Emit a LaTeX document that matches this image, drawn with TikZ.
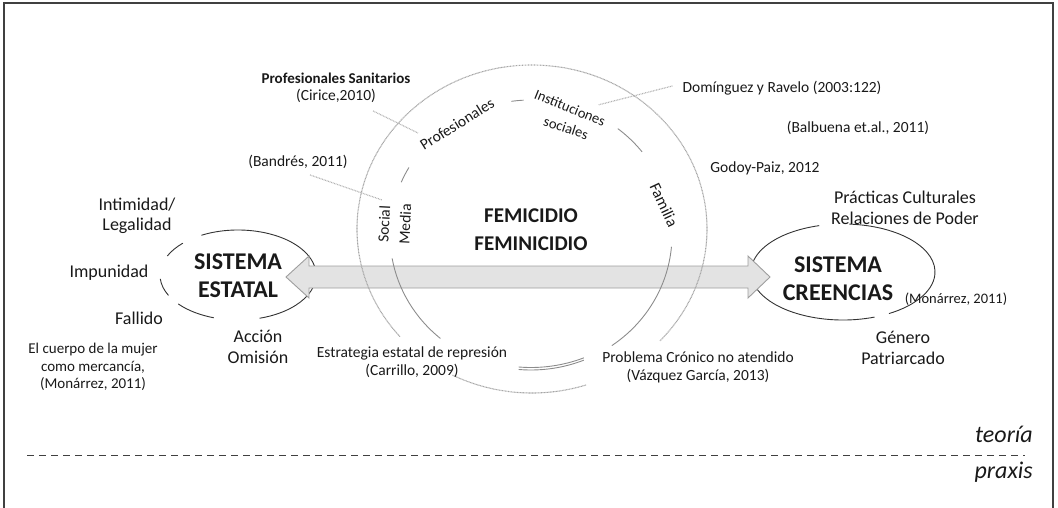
\documentclass[tikz,border=0pt]{standalone}
\usepackage{fontspec}
\setmainfont{Carlito}
\newcommand\myarc[7]{\draw[#1] (#2,#3) ++(#6:#4 and #5) arc[start angle=#6,end angle=#7,x radius=#4,y radius=#5];}
\begin{document}
\begin{tikzpicture}[x=1pt,y=-1pt,
  every node/.style={inner sep=0pt, align=center, text=black!90},
  ref/.style={font=\fontsize{15.5}{18}\selectfont},
  med/.style={font=\fontsize{18}{20.5}\selectfont},
  big/.style={font=\bfseries\fontsize{24}{28}\selectfont},
  fem/.style={font=\bfseries\fontsize{21}{28}\selectfont},
  onring/.style={font=\fontsize{15.5}{18}\selectfont},
  side/.style={font=\itshape\fontsize{24}{28}\selectfont, anchor=east},
  framec/.style={draw=black!75, line width=1.3pt},
  ellc/.style={draw=black!80, line width=0.9pt},
  dotc/.style={draw=black!35, line width=1.1pt, dash pattern=on 0.9pt off 0.6pt},
  innc/.style={draw=black!45, line width=0.9pt},
  leader/.style={draw=black!30, line width=1.2pt, dash pattern=on 0.8pt off 0.8pt},
  arrowst/.style={draw=black!38, fill=black!11, line width=0.9pt, line join=miter},
  sep/.style={draw=black!75, line width=0.9pt, dash pattern=on 7pt off 5pt}]
\useasboundingbox (0,0) rectangle (1058,508);
\clip (0,0) rectangle (1058,508);
% frame
\draw[framec] (4,520) -- (4,3) -- (1053,3) -- (1053,520);
% ellipses (broken outlines)
\myarc{ellc}{238}{275}{78}{45}{205}{225}
\myarc{ellc}{238}{275}{78}{45}{242}{434}
\myarc{ellc}{238}{275}{78}{45}{153}{175}
\myarc{ellc}{238}{275}{78}{45}{108}{140}
\myarc{ellc}{843}{272}{92}{48}{274}{420}
\myarc{ellc}{843}{272}{92}{48}{70}{255}
% double arrow
\draw[arrowst] (286,277) -- (309,256) -- (309,266) -- (748,266) -- (748,256) -- (770,277)
  -- (748,298) -- (748,288) -- (309,288) -- (309,298) -- cycle;
% outer dotted ring
\myarc{dotc}{532}{229}{175}{164}{139}{403}
\myarc{dotc}{532}{229}{175}{164}{72}{117}
% inner ring pieces
\myarc{innc}{531}{235}{141}{135}{130}{170}
\myarc{innc}{531}{235}{141}{135}{203}{210}
\myarc{innc}{531}{235}{141}{135}{262}{267}
\myarc{innc}{531}{235}{141}{135}{308}{322}
\myarc{innc}{531}{235}{141}{135}{5}{55}
\myarc{innc}{531}{235}{141}{135}{68}{95}
\myarc{innc}{531}{235}{141}{132.5}{68}{95}
% central nodes
\node[big] (estatal) at (238,276) {SISTEMA\\ESTATAL};
\node[big] (creencias) at (838,279) {SISTEMA\\CREENCIAS};
\node[fem] (fem) at (531,230) {FEMICIDIO\\FEMINICIDIO};
% ring labels
\node[onring, rotate=32] (prof) at (457,124) {Profesionales};
\node[onring, font=\fontsize{14.5}{16}\selectfont, rotate=-22] (inst) at (570,108) {Instituciones};
\node[onring, font=\fontsize{14.5}{16}\selectfont, rotate=-18] (soc) at (566,128) {sociales};
\node[onring, font=\fontsize{16}{18}\selectfont, rotate=-65] (fam) at (664,205) {Familia};
\node[onring, rotate=87] (social) at (384,224) {Social};
\node[onring, rotate=87] (media) at (405,224) {Media};
% references
\node[ref, font=\bfseries\fontsize{15}{18}\selectfont] (ps) at (336,78) {Profesionales Sanitarios};
\node[ref] (cir) at (336,96) {(Cirice,2010)};
\node[ref] (bnd) at (298,162) {(Bandrés, 2011)};
\node[ref] (dom) at (782,88) {Domínguez y Ravelo (2003:122)};
\node[ref] (bal) at (858,128) {(Balbuena et.al., 2011)};
\node[ref] (god) at (765,168) {Godoy-Paiz, 2012};
\node[med] (pc) at (905,208) {Prácticas Culturales\\Relaciones de Poder};
\node[ref, font=\fontsize{14.5}{18}\selectfont] (mon2) at (956,299) {(Monárrez, 2011)};
\node[med] (gen) at (903,348) {Género\\Patriarcado};
\node[ref] (pro) at (698,367) {Problema Crónico no atendido\\(Vázquez García, 2013)};
\node[ref] (est) at (412,362) {Estrategia estatal de represión\\(Carrillo, 2009)};
\node[med] (int) at (137,216) {Intimidad/\\Legalidad};
\node[med] (imp) at (109,273) {Impunidad};
\node[med] (fal) at (139,318) {Fallido};
\node[med] (acc) at (258,347) {Acción\\Omisión};
\node[ref, font=\fontsize{15}{17.5}\selectfont] (ecm) at (93,367) {El cuerpo de la mujer\\como mercancía,\\(Monárrez, 2011)};
% leader lines
\coordinate (cirend) at (418,133);
\coordinate (bndend) at (382,200);
\coordinate (domend) at (598,105);
\draw[leader] ([shift={(-3,8)}]cir.south east) -- (cirend);
\draw[leader] ([shift={(12,6)}]bnd.south) -- (bndend);
\draw[leader] ([shift={(-10,-2)}]dom.west) -- (domend);
% theory / practice
\coordinate (sepl) at (27,455);
\coordinate (sepr) at (1025,455);
\draw[sep] (sepl) -- (sepr);
\node[side] (teo) at (1033,434) {teoría};
\node[side] (pra) at (1033,472) {praxis};
\end{tikzpicture}
\end{document}
